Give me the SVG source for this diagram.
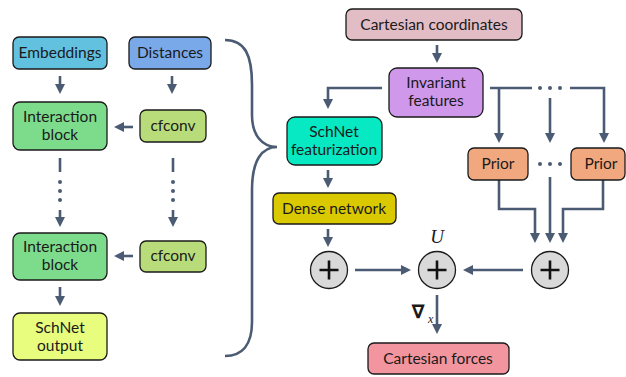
<svg xmlns="http://www.w3.org/2000/svg" width="626" height="377" viewBox="0 0 626 377">
<defs>
<style>
.n{stroke:#1a1a1a;stroke-width:1.3}
.t{font-family:Lato,"Open Sans","Liberation Sans",sans-serif;font-size:15.5px;fill:#1a1a1a;text-anchor:middle}
.c{fill:none;stroke:#4b5b73;stroke-width:2.6}
.a{marker-end:url(#ah)}
.d{fill:#4b5b73}
.p{fill:#d9d9d9;stroke:#1a1a1a;stroke-width:1.3}
.pl{stroke:#111;stroke-width:2.6}
</style>
<marker id="ah" viewBox="0 0 10 10" refX="6" refY="5" markerWidth="10" markerHeight="10" markerUnits="userSpaceOnUse" orient="auto">
<path d="M0,0 L10,5 L0,10 z" fill="#4b5b73"/>
</marker>
</defs>

<g id="connectors">
<path class="c a" d="M60,76 V90"/>
<path class="c a" d="M172,76 V90"/>
<path class="c a" d="M133,127 H118"/>
<path class="c" d="M60,158 V172"/>
<circle class="d" cx="60" cy="182" r="2"/><circle class="d" cx="60" cy="191" r="2"/><circle class="d" cx="60" cy="200" r="2"/>
<path class="c a" d="M60,210 V223"/>
<path class="c" d="M173,158 V172"/>
<circle class="d" cx="173" cy="182" r="2"/><circle class="d" cx="173" cy="191" r="2"/><circle class="d" cx="173" cy="200" r="2"/>
<path class="c a" d="M173,210 V223"/>
<path class="c a" d="M133,256 H118"/>
<path class="c a" d="M60,287 V302"/>
<path class="c" d="M225,40 C245,40 252,55 252,85 L252,115 C252,135 262,147 277,147 C262,147 252,160 252,190 L252,322 C252,345 242,356 225,356"/>
<path class="c a" d="M437,45 V59"/>
<path class="c a" d="M382,88 H328 V105"/>
<path class="c" d="M490,88 H532"/>
<circle class="d" cx="540" cy="88" r="2"/><circle class="d" cx="550" cy="88" r="2"/><circle class="d" cx="560" cy="88" r="2"/>
<path class="c a" d="M570,88 H604 V139"/>
<path class="c a" d="M499,88 V139"/>
<path class="c a" d="M550,98 V139"/>
<circle class="d" cx="540" cy="164" r="2"/><circle class="d" cx="550" cy="164" r="2"/><circle class="d" cx="560" cy="164" r="2"/>
<path class="c a" d="M328,170 V184"/>
<path class="c a" d="M499,180 V209 H535 V239"/>
<path class="c a" d="M550,177 V239"/>
<path class="c a" d="M603,180 V209 H563 V239"/>
<path class="c a" d="M328,229 V243"/>
<path class="c a" d="M355,270 H407"/>
<path class="c a" d="M523,270 H467"/>
<path class="c a" d="M437,295 V330"/>
</g>

<g id="embeddings"><rect class="n" x="13" y="37" width="94" height="32" rx="6" fill="#63c1e0"/><text class="t" x="60" y="58">Embeddings</text></g>
<g id="distances"><rect class="n" x="129" y="37" width="82" height="32" rx="6" fill="#7aa9ea"/><text class="t" x="170" y="58">Distances</text></g>
<g id="interaction1"><rect class="n" x="13" y="102" width="94" height="48" rx="7" fill="#7ddb8c"/><text class="t" x="60" y="122">Interaction</text><text class="t" x="60" y="140">block</text></g>
<g id="cfconv1"><rect class="n" x="140" y="110" width="66" height="32" rx="6" fill="#b9dc7a"/><text class="t" x="173" y="131">cfconv</text></g>
<g id="interaction2"><rect class="n" x="13" y="233" width="94" height="47" rx="7" fill="#7ddb8c"/><text class="t" x="60" y="252">Interaction</text><text class="t" x="60" y="270">block</text></g>
<g id="cfconv2"><rect class="n" x="140" y="241" width="66" height="31" rx="6" fill="#b9dc7a"/><text class="t" x="173" y="261">cfconv</text></g>
<g id="schnet-output"><rect class="n" x="13" y="313" width="94" height="47" rx="7" fill="#e8fd7e"/><text class="t" x="60" y="333">SchNet</text><text class="t" x="60" y="351">output</text></g>

<g id="cartesian-coordinates"><rect class="n" x="346" y="9" width="176" height="31" rx="6" fill="#e2bdc5"/><text class="t" x="434" y="30">Cartesian coordinates</text></g>
<g id="invariant-features"><rect class="n" x="389" y="68" width="94" height="49" rx="8" fill="#cf98ea"/><text class="t" x="436" y="88">Invariant</text><text class="t" x="436" y="106">features</text></g>
<g id="schnet-featurization"><rect class="n" x="287" y="117" width="95" height="48" rx="8" fill="#07e9c3"/><text class="t" x="334" y="137">SchNet</text><text class="t" x="334" y="155">featurization</text></g>
<g id="prior1"><rect class="n" x="468" y="148" width="60" height="32" rx="6" fill="#f2a87e"/><text class="t" x="498" y="169">Prior</text></g>
<g id="prior2"><rect class="n" x="571" y="148" width="54" height="32" rx="6" fill="#f2a87e"/><text class="t" x="601" y="169">Prior</text></g>
<g id="dense-network"><rect class="n" x="273" y="193" width="123" height="31" rx="6" fill="#dbc900"/><text class="t" x="334" y="214">Dense network</text></g>

<g id="plus1"><circle class="p" cx="329" cy="270" r="18.5"/><path class="pl" d="M319.5,270 H338.5 M329,260.5 V279.5"/></g>
<g id="plus2"><circle class="p" cx="437" cy="270" r="18.5"/><path class="pl" d="M427.5,270 H446.5 M437,260.5 V279.5"/><text x="437" y="243" font-family="'Liberation Serif',serif" font-style="italic" font-size="19" text-anchor="middle" fill="#1a1a1a">U</text></g>
<g id="plus3"><circle class="p" cx="550" cy="270" r="18.5"/><path class="pl" d="M540.5,270 H559.5 M550,260.5 V279.5"/></g>
<text x="418" y="318" font-family="'DejaVu Sans',sans-serif" font-weight="bold" font-size="19" text-anchor="middle" fill="#1a1a1a">∇</text>
<text x="428" y="323" font-family="'Liberation Serif',serif" font-style="italic" font-size="12" fill="#1a1a1a">x</text>
<g id="cartesian-forces"><rect class="n" x="368" y="343" width="141" height="31" rx="6" fill="#f2959e"/><text class="t" x="438" y="364">Cartesian forces</text></g>
</svg>
